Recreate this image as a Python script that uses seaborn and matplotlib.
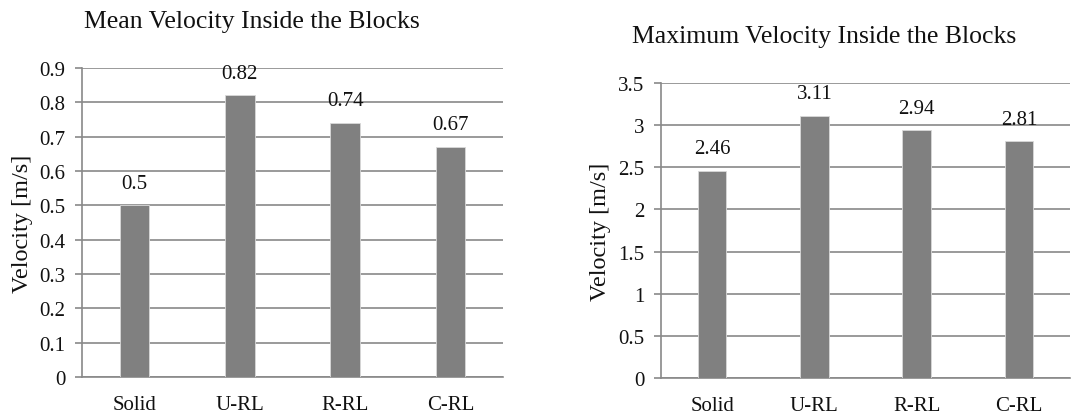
import matplotlib
matplotlib.use("Agg")
import matplotlib.pyplot as plt
import seaborn as sns
import pandas as pd

categories = ["Solid", "U-RL", "R-RL", "C-RL"]
mean_velocity = [0.5, 0.82, 0.74, 0.67]
max_velocity = [2.46, 3.11, 2.94, 2.81]
mean_labels = ["0.5", "0.82", "0.74", "0.67"]
max_labels = ["2.46", "3.11", "2.94", "2.81"]
mean_ticks = [0, 0.1, 0.2, 0.3, 0.4, 0.5, 0.6, 0.7, 0.8, 0.9]
mean_ticklabels = ["0", "0.1", "0.2", "0.3", "0.4", "0.5", "0.6", "0.7", "0.8", "0.9"]
max_ticks = [0, 0.5, 1, 1.5, 2, 2.5, 3, 3.5]
max_ticklabels = ["0", "0.5", "1", "1.5", "2", "2.5", "3", "3.5"]

sns.set_theme(style="white")
plt.rcParams["font.family"] = ["Liberation Serif", "DejaVu Serif"]

W, H = 1075, 414
fig = plt.figure(figsize=(W / 100, H / 100), dpi=100)

GRID = "#898989"
BAR = "#808080"
TXT = "#111111"
FS = 15

def panel(rect, values, labels, ticks, ticklabels, title, title_xy, ylabel_x):
    ax = fig.add_axes(rect)
    df = pd.DataFrame({"cat": categories, "val": values})
    sns.barplot(data=df, x="cat", y="val", ax=ax, color=BAR, width=0.28,
                saturation=1, edgecolor="#d9d9d9", linewidth=0.6, zorder=3)
    ax.set_ylim(ticks[0], ticks[-1])
    ax.set_yticks(ticks)
    ax.set_yticklabels(ticklabels, fontsize=FS, color=TXT)
    ax.set_xlim(-0.5, len(categories) - 0.5)
    ax.tick_params(axis="x", labelsize=FS, colors=TXT, length=0, pad=13)
    ax.tick_params(axis="y", length=5, width=1.2, color=GRID, pad=7, left=True)
    ax.yaxis.grid(True, color=GRID, linewidth=1.2, zorder=0)
    ax.set_axisbelow(True)
    for s in ["top", "right"]:
        ax.spines[s].set_visible(False)
    ax.spines["left"].set_color(GRID)
    ax.spines["left"].set_linewidth(1.2)
    ax.spines["bottom"].set_color(GRID)
    ax.spines["bottom"].set_linewidth(1.2)
    ax.set_xlabel("")
    ax.set_ylabel("Velocity [m/s]", fontsize=17.5, color=TXT)
    ax.yaxis.set_label_coords((ylabel_x - rect[0] * W) / (rect[2] * W), 0.5)
    ax.bar_label(ax.containers[0], labels=labels, padding=9, fontsize=FS, color=TXT)
    fig.text(title_xy[0] / W, 1 - title_xy[1] / H, title, fontsize=18.5,
             ha="center", va="center", color=TXT)
    return ax

# left axes: x 82..503, y 69..378
ax1 = panel([82 / W, 1 - 378 / H, (503 - 82) / W, (378 - 69) / H],
            mean_velocity, mean_labels, mean_ticks, mean_ticklabels,
            "Mean Velocity Inside the Blocks", (252, 22), 33)
# right axes: x 661..1070, y 84..379
ax2 = panel([661 / W, 1 - 379 / H, (1070 - 661) / W, (379 - 84) / H],
            max_velocity, max_labels, max_ticks, max_ticklabels,
            "Maximum Velocity Inside the Blocks", (824, 37), 611)

fig.savefig("out.png", dpi=100, facecolor="white")
